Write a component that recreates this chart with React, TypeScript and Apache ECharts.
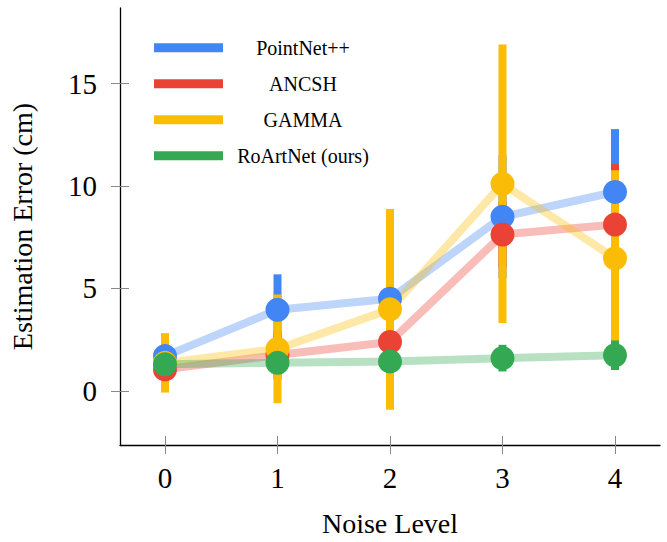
import React, { useEffect, useRef } from "react";
import * as echarts from "echarts";

const noiseLevels = [0, 1, 2, 3, 4];
const methods = ["PointNet++", "ANCSH", "GAMMA", "RoArtNet (ours)"];
const colors = ["#4285F4", "#EA4335", "#FBBC05", "#34A853"];

const pointNetMean = [1.7, 3.96, 4.5, 8.5, 9.71];
const pointNetErr = [0.5, 1.73, 1.95, 3.0, 3.07];
const ancshMean = [1.05, 1.75, 2.39, 7.63, 8.12];
const ancshErr = [0.4, 1.2, 1.5, 1.6, 2.95];
const gammaMean = [1.37, 2.05, 3.98, 10.11, 6.47];
const gammaErr = [1.45, 2.65, 4.9, 6.8, 4.3];
const roartMean = [1.3, 1.37, 1.44, 1.6, 1.74];
const roartErr = [0.3, 0.4, 0.5, 0.65, 0.72];

const xTickValues = [0, 1, 2, 3, 4];
const yTickValues = [0, 5, 10, 15];

const means = [pointNetMean, ancshMean, gammaMean, roartMean];
const errs = [pointNetErr, ancshErr, gammaErr, roartErr];

const FONT = "'Liberation Serif', 'DejaVu Serif', serif";

export default function App() {
  const ref = useRef<HTMLDivElement>(null);
  useEffect(() => {
    if (!ref.current) return;
    const chart = echarts.init(ref.current, undefined, { renderer: "svg" });

    const errSeries = methods.map((m, k) => ({
      name: m,
      type: "custom",
      z: 2,
      data: noiseLevels.map((x, i) => [x, means[k][i] - errs[k][i], means[k][i] + errs[k][i]]),
      encode: { x: 0, y: [1, 2] },
      renderItem: (params: any, api: any) => {
        const x = api.value(0);
        const lo = api.value(1);
        const hi = api.value(2);
        const top = api.coord([x, hi]);
        const bot = api.coord([x, lo]);
        return {
          type: "rect",
          shape: { x: top[0] - 4, y: top[1], width: 8, height: bot[1] - top[1] },
          style: { fill: colors[k] },
        };
      },
    }));

    const lineSeries = methods.map((m, k) => ({
      name: m,
      type: "line",
      z: 3,
      symbol: "none",
      data: noiseLevels.map((x, i) => [x, means[k][i]]),
      lineStyle: { color: colors[k], width: 8, opacity: 0.35 },
      itemStyle: { color: colors[k] },
    }));

    const markerSeries = methods.map((m, k) => ({
      name: m,
      type: "scatter",
      z: 4,
      symbol: "circle",
      symbolSize: 24,
      data: noiseLevels.map((x, i) => [x, means[k][i]]),
      itemStyle: { color: colors[k], opacity: 1 },
    }));

    const tickStyle = { color: "#888", width: 1 };

    chart.setOption({
      animation: false,
      grid: { left: 120, right: 7, top: 8, bottom: 94.3 },
      legend: {
        orient: "vertical",
        left: 154,
        top: 37.7,
        padding: 0,
        itemGap: 16,
        itemWidth: 69,
        itemHeight: 9,
        icon: "rect",
        data: methods.map((m, k) => ({ name: m, itemStyle: { color: colors[k], opacity: 1 } })),
        formatter: (n: string) => `{a|${n}}`,
        textStyle: {
          rich: {
            a: { width: 150, align: "center", fontSize: 20, lineHeight: 20, fontFamily: FONT, color: "#000" },
          },
        },
      },
      xAxis: [
        {
          type: "value",
          min: -0.4,
          max: 4.4,
          position: "bottom",
          axisLine: { show: true, onZero: false, lineStyle: { color: "#000", width: 1.3 } },
          axisTick: { show: true, customValues: xTickValues, inside: false, length: 9, lineStyle: tickStyle },
          axisLabel: { customValues: xTickValues, margin: 18.5, fontSize: 29, fontFamily: FONT, color: "#000" },
          splitLine: { show: false },
          name: "Noise Level",
          nameLocation: "middle",
          nameGap: 64,
          nameTextStyle: { fontSize: 28, fontFamily: FONT, color: "#000" },
        },
        {
          type: "value",
          min: -0.4,
          max: 4.4,
          position: "bottom",
          offset: 0,
          axisLine: { show: false, onZero: false },
          axisTick: { show: true, customValues: xTickValues, inside: true, length: 9, lineStyle: tickStyle },
          axisLabel: { show: false },
          splitLine: { show: false },
        },
      ],
      yAxis: [
        {
          type: "value",
          min: -2.64,
          max: 18.69,
          position: "left",
          axisLine: { show: true, onZero: false, lineStyle: { color: "#000", width: 1.3 } },
          axisTick: { show: true, customValues: yTickValues, inside: false, length: 9, lineStyle: tickStyle },
          axisLabel: { customValues: yTickValues, margin: 23, fontSize: 29, fontFamily: FONT, color: "#000" },
          splitLine: { show: false },
          name: "Estimation Error (cm)",
          nameLocation: "middle",
          nameGap: 84,
          nameRotate: 90,
          nameTextStyle: { fontSize: 28, fontFamily: FONT, color: "#000" },
        },
        {
          type: "value",
          min: -2.64,
          max: 18.69,
          position: "left",
          offset: 0,
          axisLine: { show: false, onZero: false },
          axisTick: { show: true, customValues: yTickValues, inside: true, length: 9, lineStyle: tickStyle },
          axisLabel: { show: false },
          splitLine: { show: false },
        },
      ],
      series: [...errSeries, ...lineSeries, ...markerSeries],
    });

    return () => chart.dispose();
  }, []);

  return (
    <div
      ref={ref}
      style={{ position: "absolute", left: 0, top: 0, width: 667, height: 542, background: "#fff" }}
    />
  );
}
